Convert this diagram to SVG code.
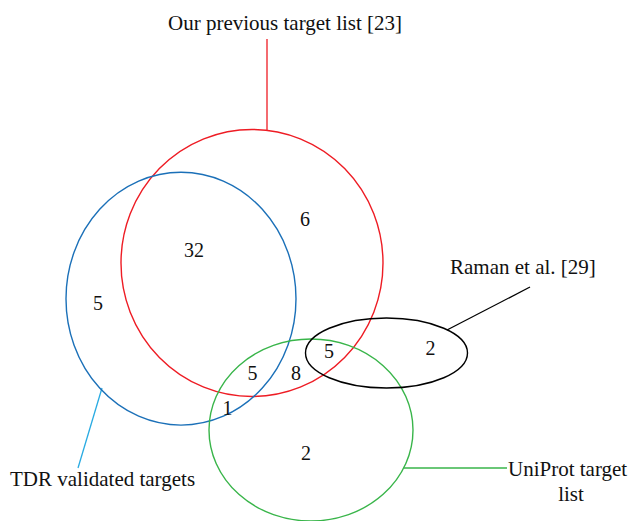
<svg xmlns="http://www.w3.org/2000/svg" width="630" height="521" viewBox="0 0 630 521">
<style>
.set{fill:none;stroke-width:1.4}
.lbl{font-family:"Liberation Serif","Times New Roman",serif;font-size:21px;fill:#111}
.num{font-family:"Liberation Serif","Times New Roman",serif;font-size:20px;fill:#111;text-anchor:middle}
.ln{fill:none;stroke-width:1.3}
</style>
<rect width="630" height="521" fill="#fff"/>
<g id="connectors">
<line class="ln" x1="267" y1="39" x2="267" y2="130.4" stroke="#ee1c24"/>
<line class="ln" x1="530" y1="287" x2="447" y2="330" stroke="#000"/>
<line class="ln" x1="102" y1="388" x2="78" y2="468" stroke="#29abe2"/>
<line class="ln" x1="403.7" y1="468" x2="507" y2="468" stroke="#39b54a"/>
</g>
<g id="previous">
<ellipse class="set" cx="252" cy="263" rx="131" ry="133.5" stroke="#ee1c24"/>
<text class="lbl" x="168" y="30">Our previous target list [23]</text>
</g>
<g id="tdr">
<ellipse class="set" cx="181" cy="298.7" rx="115" ry="126.4" stroke="#1b70b8"/>
<text class="lbl" x="10" y="486">TDR validated targets</text>
</g>
<g id="uniprot">
<ellipse class="set" cx="311" cy="430" rx="102" ry="91" stroke="#39b54a"/>
<text class="lbl" x="508" y="475.5">UniProt target</text>
<text class="lbl" x="571" y="500.5" text-anchor="middle">list</text>
</g>
<g id="raman">
<ellipse class="set" cx="386.5" cy="353" rx="81" ry="35" stroke="#000"/>
<text class="lbl" x="450" y="274">Raman et al. [29]</text>
</g>
<g id="counts">
<text class="num" x="305" y="226">6</text>
<text class="num" x="194" y="257">32</text>
<text class="num" x="98" y="310">5</text>
<text class="num" x="252.5" y="380">5</text>
<text class="num" x="296" y="380">8</text>
<text class="num" x="329" y="358">5</text>
<text class="num" x="430.5" y="355">2</text>
<text class="num" x="227.5" y="415">1</text>
<text class="num" x="306" y="460">2</text>
</g>
</svg>
